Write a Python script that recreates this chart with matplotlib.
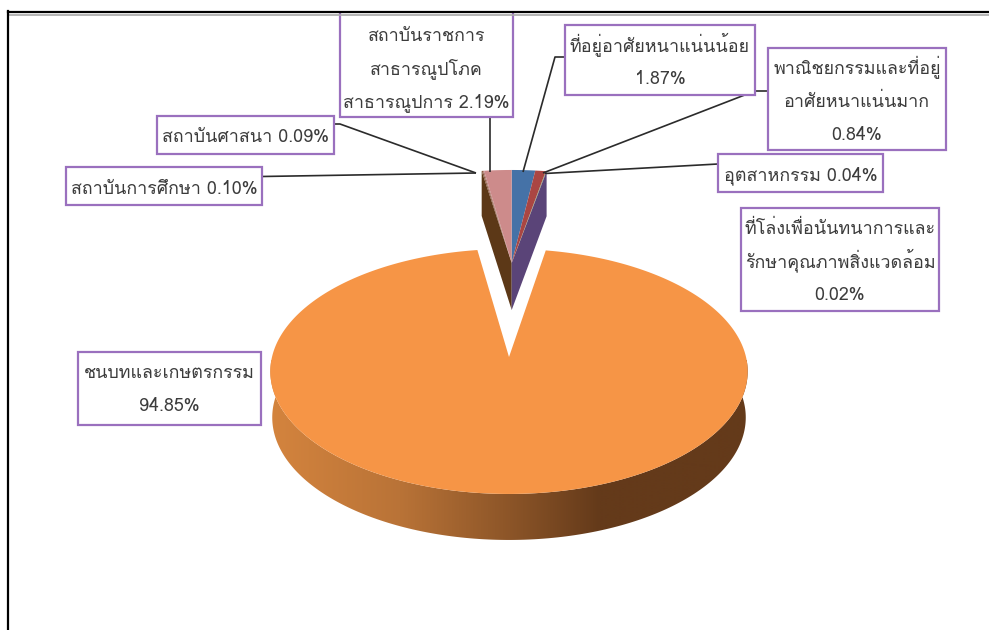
import numpy as np
import matplotlib
matplotlib.use('Agg')
import matplotlib.pyplot as plt
from matplotlib.patches import Polygon, Rectangle

plt.rcParams['font.family'] = ['Loma', 'DejaVu Sans']

# ค่าของแต่ละชิ้น เรียงตามเข็มนาฬิกาจากด้านบน
names = ['ที่อยู่อาศัยหนาแน่นน้อย', 'พาณิชยกรรมและที่อยู่\nอาศัยหนาแน่นมาก', 'อุตสาหกรรม',
         'ที่โล่งเพื่อนันทนาการและ\nรักษาคุณภาพสิ่งแวดล้อม', 'ชนบทและเกษตรกรรม',
         'สถาบันการศึกษา', 'สถาบันศาสนา', 'สถาบันราชการ\nสาธารณูปโภค\nสาธารณูปการ']
values = [1.87, 0.84, 0.04, 0.02, 94.85, 0.10, 0.09, 2.19]
inline_pct = [False, False, True, False, False, True, True, True]
colors = ['#4572A7', '#AA4643', '#89A54E', '#71588F', '#F69546', '#8A5A40', '#B07A70', '#CD8B8B']

# กล่องข้อความ (x0, y0, x1, y1) เป็นพิกเซล
boxes = [(565, 25, 755, 95), (768, 48, 946, 150), (718, 154, 883, 192), (741, 208, 939, 311),
         (78, 352, 261, 425), (66, 167, 262, 205), (157, 116, 334, 154), (340, 5, 513, 117)]
first_line_y = [45, 68, 174, 228, 372, 188, 136, 35]
leaders = [[(565, 57), (555, 57), (523, 172)], [(768, 91), (755, 91), (543, 173)],
           [(718, 164), (545, 173.5)], None, None,
           [(262, 176.5), (476, 173)], [(334, 124), (340, 124), (476, 173)], [(490, 117), (490, 172)]]

side_x = [270, 400, 510, 600, 750]
side_r = [212, 185, 140, 100, 100]
side_g = [132, 115, 85, 58, 58]
side_b = [62, 55, 40, 26, 26]

fig = plt.figure(figsize=(9.89, 6.3), dpi=100)
ax = fig.add_axes([0, 0, 1, 1])
ax.set_axis_off()


def project(angle, cx, ay, a, b, k):
    # มุมวัดจากด้านบนตามเข็มนาฬิกา ไกลตาหดลง ใกล้ตาขยาย
    w = 1 + k * np.cos(angle)
    return cx + a * np.sin(angle) / w, ay - b * np.cos(angle) / w


edges = np.deg2rad(np.concatenate([[0], np.cumsum(values)]) * 3.6)
main = (509, 357, 237, 120.8, 0.118)
small = (511.7, 263, 225, 104, 0.118)
depth = 46

# ด้านข้างของชิ้นใหญ่
front = np.linspace(np.pi * 0.45, np.pi * 1.55, 200)
tx, ty = project(front, *main)
bx = main[0] + (tx - main[0]) * 0.992
by = ty + depth
side = Polygon(np.column_stack([np.r_[tx, bx[::-1]], np.r_[ty, by[::-1]]]), closed=True,
               facecolor='none', edgecolor='none')
ax.add_patch(side)
xs = np.arange(265, 756)
grad = np.stack([np.interp(xs, side_x, side_r), np.interp(xs, side_x, side_g),
                 np.interp(xs, side_x, side_b)], axis=-1)[None, :, :] / 255
im = ax.imshow(grad, extent=(265, 755, 560, 360), aspect='auto', zorder=1)
im.set_clip_path(side)

# ผนังของกลุ่มชิ้นเล็ก
lx, ly = project(edges[5], *small)
rx, ry = project(edges[4], *small)
ax.add_patch(Polygon([(lx, ly), (lx, ly + 45), (small[0], small[1] + 47), (small[0], small[1])],
                     facecolor='#5C3817', edgecolor='none', zorder=2))
ax.add_patch(Polygon([(rx, ry), (rx, ry + 45), (small[0], small[1] + 47), (small[0], small[1])],
                     facecolor='#5A4478', edgecolor='none', zorder=2))

# ผิวบนของทุกชิ้น
for i, v in enumerate(values):
    pars = main if i == 4 else small
    th = np.linspace(edges[i], edges[i + 1], max(3, int(v * 8)))
    px, py = project(th, *pars)
    pts = np.column_stack([np.r_[pars[0], px], np.r_[pars[1], py]])
    ax.add_patch(Polygon(pts, closed=True, facecolor=colors[i], edgecolor='none', zorder=3))

# เส้นโยง
for lead in leaders:
    if lead is not None:
        ax.plot(*zip(*lead), color='#2b2b2b', lw=1.2, zorder=4, solid_capstyle='butt')

# ป้ายข้อความ
for i, v in enumerate(values):
    x0, y0, x1, y1 = boxes[i]
    ax.add_patch(Rectangle((x0, y0), x1 - x0, y1 - y0, facecolor='white', edgecolor='#9A70BE',
                           lw=1.6, zorder=5))
    pct = f'{v:.2f}%'
    lines = names[i].split('\n')
    if inline_pct[i]:
        lines[-1] += ' ' + pct
    else:
        lines.append(pct)
    for j, line in enumerate(lines):
        ax.text((x0 + x1) / 2, first_line_y[i] + j * 33 + 6, line, ha='center', va='baseline',
                fontsize=12.9, fontweight='normal', color='#3c3c3c', zorder=6)

# กรอบรูป
ax.add_patch(Rectangle((0, 0), 989, 11, facecolor='white', edgecolor='none', zorder=7))
ax.plot([8, 989], [11.7, 11.7], color='black', lw=1.6, zorder=8)
ax.plot([8, 989], [14.6, 14.6], color='#a8a8a8', lw=1.2, zorder=8)
ax.plot([7.8, 7.8], [11, 630], color='black', lw=1.6, zorder=8)

ax.set_xlim(0, 989)
ax.set_ylim(630, 0)
fig.savefig('out.png', dpi=100)
